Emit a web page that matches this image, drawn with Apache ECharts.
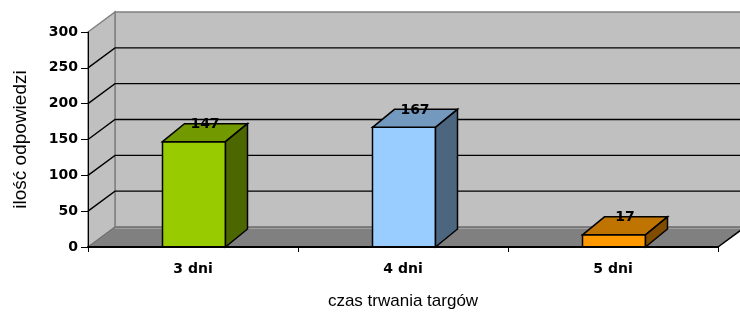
<!DOCTYPE html>
<html>
<head>
<meta charset="utf-8">
<script src="https://cdn.jsdelivr.net/npm/echarts@6/dist/echarts.min.js"></script>
<style>html,body{margin:0;padding:0;background:#fff}#c{width:740px;height:315px}</style>
</head>
<body>
<div id="c"></div>
<script>
const categories = ['3 dni', '4 dni', '5 dni'];
const values = [147, 167, 17];
const yTicks = [0, 50, 100, 150, 200, 250, 300];
const frontColors = ['#99CC00', '#99CCFF', '#FF9900'];
const topColors = ['#739900', '#7399BF', '#BF7300'];
const sideColors = ['#4C6600', '#4C6680', '#804C00'];
const xTitle = 'czas trwania targów';
const yTitle = 'ilość odpowiedzi';

const WALL_DX = 27, WALL_DY = -20;
const BAR_DX = 22, BAR_DY = -18;
const yMax = yTicks[yTicks.length - 1];

const chart = echarts.init(document.getElementById('c'), null, {renderer: 'canvas'});

function renderWalls(params, api) {
  const cs = params.coordSys;
  const left = cs.x, right = cs.x + cs.width;
  const y0 = api.coord([0, 0])[1];
  const yT = api.coord([0, yMax])[1];
  const dx = WALL_DX, dy = WALL_DY;
  const children = [];
  children.push({type: 'polygon', shape: {points: [[left + dx, yT + dy], [right + dx, yT + dy], [right + dx, y0 + dy], [left + dx, y0 + dy]]},
    style: {fill: '#C0C0C0', stroke: '#808080', lineWidth: 1.5}});
  children.push({type: 'polygon', shape: {points: [[left, yT], [left + dx, yT + dy], [left + dx, y0 + dy], [left, y0]]},
    style: {fill: '#C0C0C0', stroke: '#808080', lineWidth: 1.5}});
  children.push({type: 'polygon', shape: {points: [[left, y0], [left + dx, y0 + dy], [right + dx, y0 + dy], [right, y0]]},
    style: {fill: '#808080', stroke: '#6e6e6e', lineWidth: 1}});
  children.push({type: 'line', shape: {x1: left + dx, y1: y0 + dy + 1.5, x2: right + dx, y2: y0 + dy + 1.5},
    style: {stroke: '#A0A0A0', lineWidth: 1}});
  children.push({type: 'line', shape: {x1: right, y1: y0, x2: right + dx, y2: y0 + dy},
    style: {stroke: '#000', lineWidth: 1.5}});
  yTicks.forEach(v => {
    if (v <= 0 || v >= yMax) return;
    const y = api.coord([0, v])[1];
    children.push({type: 'polyline', shape: {points: [[left, y], [left + dx, y + dy], [right + dx, y + dy]]},
      style: {stroke: '#000', lineWidth: 1.4, fill: null}});
  });
  return {type: 'group', children};
}

function renderBars(params, api) {
  const i = params.dataIndex;
  const v = api.value(1);
  const p = api.coord([api.value(0), v]);
  const b = api.coord([api.value(0), 0]);
  const w = api.size([1, 0])[0] * 0.3;
  const xL = p[0] - w / 2 + 1, xR = p[0] + w / 2 + 1, yT = p[1], yB = b[1];
  const dx = BAR_DX, dy = BAR_DY;
  return {type: 'group', children: [
    {type: 'polygon', shape: {points: [[xL, yT], [xR, yT], [xR, yB], [xL, yB]]},
      style: {fill: frontColors[i], stroke: '#000', lineWidth: 1.5}},
    {type: 'polygon', shape: {points: [[xL, yT], [xL + dx, yT + dy], [xR + dx, yT + dy], [xR, yT]]},
      style: {fill: topColors[i], stroke: '#000', lineWidth: 1.5}},
    {type: 'polygon', shape: {points: [[xR, yT], [xR + dx, yT + dy], [xR + dx, yB + dy], [xR, yB]]},
      style: {fill: sideColors[i], stroke: '#000', lineWidth: 1.5}},
    {type: 'text', style: {text: String(values[i]), x: p[0] + 1 + dx / 2, y: yT + dy + 1,
      align: 'center', verticalAlign: 'middle', fill: '#000',
      fontFamily: 'DejaVu Sans', fontWeight: 'bold', fontSize: 14}}
  ]};
}

chart.setOption({
  animation: false,
  backgroundColor: '#fff',
  grid: {left: 88, right: 22, top: 32, bottom: 62, containLabel: false},
  xAxis: {
    type: 'category', data: categories, z: 10,
    axisLine: {show: true, lineStyle: {color: '#000', width: 2}},
    axisTick: {show: true, length: 5, lineStyle: {color: '#000'}},
    axisLabel: {color: '#000', fontFamily: 'DejaVu Sans', fontWeight: 'bold', fontSize: 14, margin: 15},
    splitLine: {show: false},
    name: xTitle, nameLocation: 'middle', nameGap: 46,
    nameTextStyle: {color: '#000', fontFamily: 'Liberation Sans', fontSize: 17}
  },
  yAxis: {
    type: 'value', min: 0, max: yMax, interval: 50, z: 10,
    axisLine: {show: true, lineStyle: {color: '#000', width: 1}},
    axisTick: {show: true, length: 7, lineStyle: {color: '#000'}},
    axisLabel: {color: '#000', fontFamily: 'DejaVu Sans', fontWeight: 'bold', fontSize: 14, margin: 10},
    splitLine: {show: false},
    name: yTitle, nameLocation: 'middle', nameGap: 58, nameRotate: 90,
    nameTextStyle: {color: '#000', fontFamily: 'Liberation Sans', fontSize: 19}
  },
  series: [
    {type: 'custom', renderItem: renderWalls, data: [[0, 0]], z: 1, silent: true, clip: false},
    {type: 'custom', renderItem: renderBars, data: values.map((v, i) => [i, v]), encode: {x: 0, y: 1}, z: 3, clip: false}
  ]
});
</script>
</body>
</html>
